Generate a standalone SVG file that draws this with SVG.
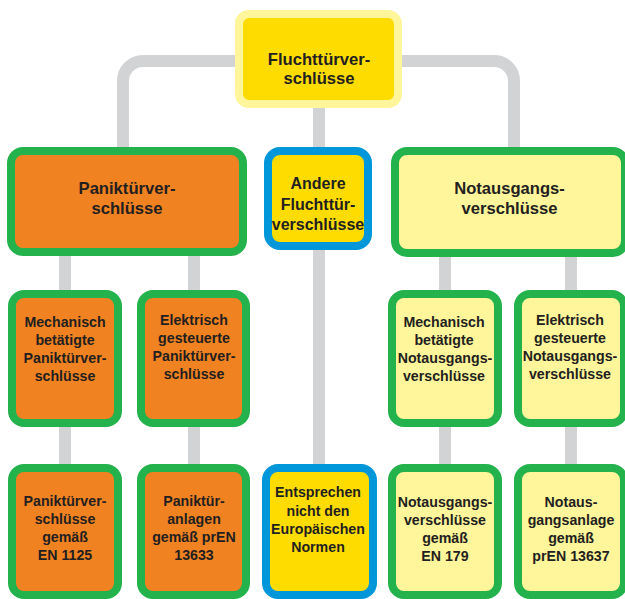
<svg xmlns="http://www.w3.org/2000/svg" width="625" height="599" viewBox="0 0 625 599">
<style>
.c{fill:none;stroke:#D1D3D4;stroke-width:12}
.b{stroke-width:8}
.top{fill:#FFDC00;stroke:#FFF59A}
.or{fill:#F18221;stroke:#24B24D}
.ly{fill:#FFF59B;stroke:#24B24D}
.bl{fill:#FFDC00;stroke:#0096DA}
text{font-family:"Liberation Sans",Arial,Helvetica,sans-serif;font-weight:bold;fill:#231F20;text-anchor:middle}
.L{font-size:16.6px}
.S{font-size:14.2px}
</style>
<rect width="625" height="599" fill="#FFFFFF"/>
<g id="connectors">
<path class="c" d="M235 61 H143 A20 20 0 0 0 123 81 V147"/>
<path class="c" d="M402 61 H494 A20 20 0 0 1 514 81 V147"/>
<path class="c" d="M319 108 V147"/>
<path class="c" d="M65 256 V290 M194 256 V290 M445 257 V290 M571 257 V290"/>
<path class="c" d="M65 427 V464 M194 427 V464 M319 250 V464 M445 427 V464 M571 427 V464"/>
</g>
<g id="fluchttuerverschluesse">
<rect class="b top" x="239" y="14" width="159" height="90" rx="10"/>
<text class="L" x="319" y="65">Fluchttürver-</text>
<text class="L" x="319" y="84">schlüsse</text>
</g>
<g id="paniktuerverschluesse">
<rect class="b or" x="11" y="151" width="232" height="101" rx="12"/>
<text class="L" x="127" y="194">Paniktürver-</text>
<text class="L" x="127" y="214">schlüsse</text>
</g>
<g id="andere">
<rect class="b bl" x="268" y="151" width="100" height="95" rx="12"/>
<text class="L" x="318" y="189" style="font-size:16px">Andere</text>
<text class="L" x="318" y="209.5" style="font-size:16px">Fluchttür-</text>
<text class="L" x="318" y="230" style="font-size:16px">verschlüsse</text>
</g>
<g id="notausgangsverschluesse">
<rect class="b ly" x="395" y="151" width="230" height="102" rx="12"/>
<text class="L" x="509.5" y="194">Notausgangs-</text>
<text class="L" x="509.5" y="214">verschlüsse</text>
</g>
<g id="mech-panik">
<rect class="b or" x="12" y="294" width="106" height="129" rx="12"/>
<text class="S" x="65" y="327">Mechanisch</text>
<text class="S" x="65" y="345">betätigte</text>
<text class="S" x="65" y="363">Paniktürver-</text>
<text class="S" x="65" y="381">schlüsse</text>
</g>
<g id="elek-panik">
<rect class="b or" x="141" y="294" width="105" height="129" rx="12"/>
<text class="S" x="194" y="325">Elektrisch</text>
<text class="S" x="194" y="343">gesteuerte</text>
<text class="S" x="194" y="361">Paniktürver-</text>
<text class="S" x="194" y="379">schlüsse</text>
</g>
<g id="mech-notaus">
<rect class="b ly" x="392" y="294" width="106" height="129" rx="12"/>
<text class="S" x="444" y="327">Mechanisch</text>
<text class="S" x="444" y="345">betätigte</text>
<text class="S" x="445" y="363">Notausgangs-</text>
<text class="S" x="444" y="381">verschlüsse</text>
</g>
<g id="elek-notaus">
<rect class="b ly" x="518" y="294" width="106" height="129" rx="12"/>
<text class="S" x="570" y="325">Elektrisch</text>
<text class="S" x="570" y="343">gesteuerte</text>
<text class="S" x="570" y="361">Notausgangs-</text>
<text class="S" x="570" y="379">verschlüsse</text>
</g>
<g id="en1125">
<rect class="b or" x="12" y="468" width="106" height="127" rx="12"/>
<text class="S" x="65" y="506">Paniktürver-</text>
<text class="S" x="65" y="524">schlüsse</text>
<text class="S" x="65" y="542">gemäß</text>
<text class="S" x="65" y="560">EN 1125</text>
</g>
<g id="pren13633">
<rect class="b or" x="141" y="468" width="105" height="127" rx="12"/>
<text class="S" x="194" y="506">Paniktür-</text>
<text class="S" x="194" y="524">anlagen</text>
<text class="S" x="194" y="542">gemäß prEN</text>
<text class="S" x="194" y="560">13633</text>
</g>
<g id="nicht-eu">
<rect class="b bl" x="266" y="468" width="107" height="127" rx="12"/>
<text class="S" x="318" y="497">Entsprechen</text>
<text class="S" x="318" y="515.5">nicht den</text>
<text class="S" x="318" y="534">Europäischen</text>
<text class="S" x="318" y="552">Normen</text>
</g>
<g id="en179">
<rect class="b ly" x="392" y="468" width="106" height="127" rx="12"/>
<text class="S" x="445" y="507">Notausgangs-</text>
<text class="S" x="445" y="525">verschlüsse</text>
<text class="S" x="445" y="543">gemäß</text>
<text class="S" x="445" y="561">EN 179</text>
</g>
<g id="pren13637">
<rect class="b ly" x="518" y="468" width="106" height="127" rx="12"/>
<text class="S" x="571" y="507">Notaus-</text>
<text class="S" x="571" y="525">gangsanlage</text>
<text class="S" x="571" y="543">gemäß</text>
<text class="S" x="571" y="561">prEN 13637</text>
</g>
</svg>
